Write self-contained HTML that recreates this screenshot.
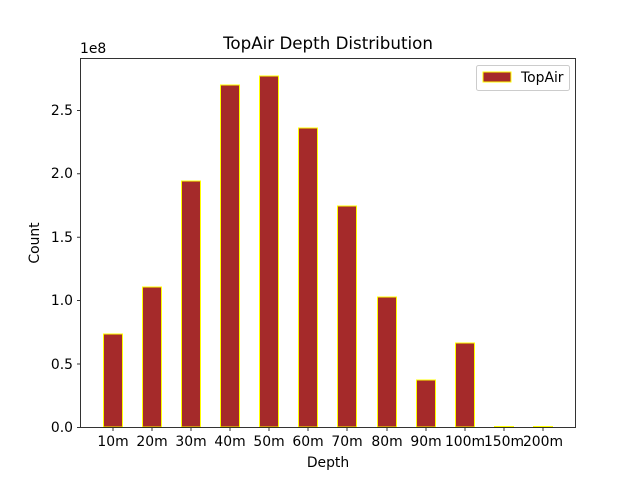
<!DOCTYPE html>
<html><head><style>body{margin:0;background:#fff}</style></head><body>
<svg width="640" height="480" xmlns="http://www.w3.org/2000/svg" font-family="DejaVu Sans, Liberation Sans, sans-serif" font-size="13.9">
<rect width="640" height="480" fill="#fff"/>
<g fill="#a52a2a" stroke="#ffff00" stroke-width="1">
<rect x="103.5" y="334" width="19" height="93"/>
<rect x="142.5" y="287" width="19" height="140"/>
<rect x="181.5" y="181" width="19" height="246"/>
<rect x="220.5" y="85" width="19" height="342"/>
<rect x="259.5" y="76" width="19" height="351"/>
<rect x="298.5" y="128" width="19" height="299"/>
<rect x="337.5" y="206" width="19" height="221"/>
<rect x="377.5" y="297" width="19" height="130"/>
<rect x="416.5" y="380" width="19" height="47"/>
<rect x="455.5" y="343" width="19" height="84"/>
<rect x="494.5" y="426.5" width="19" height="0.5"/>
<rect x="533.5" y="426.5" width="19" height="0.5"/>
</g>
<rect x="80.5" y="58.5" width="495" height="369" fill="none" stroke="#000" stroke-width="0.8"/>
<g stroke="#000" stroke-width="0.8">
<line x1="77" x2="80" y1="427.5" y2="427.5"/><line x1="77" x2="80" y1="364" y2="364"/>
<line x1="77" x2="80" y1="300.6" y2="300.6"/><line x1="77" x2="80" y1="237.2" y2="237.2"/>
<line x1="77" x2="80" y1="173.8" y2="173.8"/><line x1="77" x2="80" y1="110.4" y2="110.4"/>
<line x1="113" x2="113" y1="428" y2="431"/><line x1="152" x2="152" y1="428" y2="431"/>
<line x1="191" x2="191" y1="428" y2="431"/><line x1="230" x2="230" y1="428" y2="431"/>
<line x1="269" x2="269" y1="428" y2="431"/><line x1="308" x2="308" y1="428" y2="431"/>
<line x1="347" x2="347" y1="428" y2="431"/><line x1="387" x2="387" y1="428" y2="431"/>
<line x1="426" x2="426" y1="428" y2="431"/><line x1="465" x2="465" y1="428" y2="431"/>
<line x1="504" x2="504" y1="428" y2="431"/><line x1="543" x2="543" y1="428" y2="431"/>
</g>
<g text-anchor="end">
<text x="73" y="432">0.0</text><text x="73" y="369">0.5</text><text x="73" y="305">1.0</text>
<text x="73" y="242">1.5</text><text x="73" y="178">2.0</text><text x="73" y="115">2.5</text>
</g>
<text x="80" y="53">1e8</text>
<g text-anchor="middle">
<text x="113" y="446">10m</text><text x="152" y="446">20m</text><text x="191" y="446">30m</text>
<text x="230" y="446">40m</text><text x="269" y="446">50m</text><text x="308" y="446">60m</text>
<text x="347" y="446">70m</text><text x="387" y="446">80m</text><text x="426" y="446">90m</text>
<text x="465" y="446">100m</text><text x="504" y="446">150m</text><text x="543" y="446">200m</text>
<text x="328" y="467">Depth</text>
<text x="328" y="49" font-size="16.7">TopAir Depth Distribution</text>
<text transform="translate(39,243) rotate(-90)">Count</text>
</g>
<rect x="476.5" y="65.5" width="93" height="25" rx="2" fill="#fff" stroke="#ccc"/>
<rect x="483" y="72" width="28" height="10" fill="#a52a2a" stroke="#ffff00"/>
<text x="521" y="82">TopAir</text>
</svg>
</body></html>
